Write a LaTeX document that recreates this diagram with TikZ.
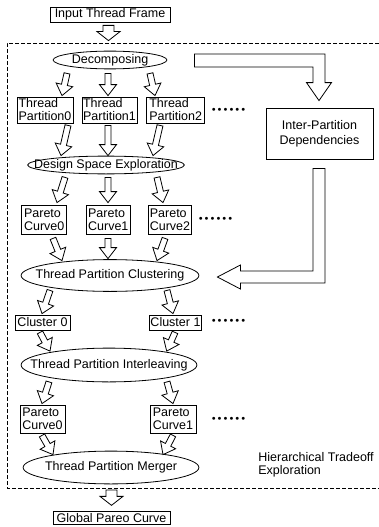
\documentclass[tikz,border=0pt]{standalone}
\usepackage{fontspec}
\setmainfont{Liberation Sans}
\newfontfamily\dotfont{DejaVu Sans}
\usetikzlibrary{calc}
\newcommand\blockarr[5]{%
  \draw[blockarrow] let \p1=#4, \p2=#5,
    \n1={atan2(\y2-\y1,\x2-\x1)}, \n2={veclen(\x2-\x1,\y2-\y1)} in
    [shift={(\p1)}, rotate=\n1]
    (0pt,-#1pt) -- ({\n2-#3pt},-#1pt) -- ({\n2-#3pt},-#2pt) -- ({\n2+0pt},0pt)
    -- ({\n2-#3pt},#2pt) -- ({\n2-#3pt},#1pt) -- (0pt,#1pt) -- cycle;}
\newcommand\bigarr[2]{\blockarr{5.5}{11.5}{9}{#1}{#2}}
\newcommand\smallarr[2]{\blockarr{3}{8.5}{11}{#1}{#2}}
\begin{document}
\begin{tikzpicture}[x=1pt,y=-1pt, line width=0.8pt,
  font=\fontsize{12.5}{13}\selectfont,
  box/.style={draw, rectangle, inner sep=1pt, align=left},
  oval/.style={rectangle, inner sep=0pt},
  blockarrow/.style={draw, fill=white, line join=miter},
  dashbox/.style={dash pattern=on 4pt off 2pt},
  dotrow/.style={inner sep=0pt, font=\dotfont\fontsize{10}{10}\selectfont}]
\useasboundingbox (0,0) rectangle (379,527);

% frame
\draw[dashbox] (385,43) -- (7,43) -- (7,488) -- (385,488);

% nodes
\node[box, minimum width=120pt, minimum height=15pt] (input) at (110,14.5) {Input Thread Frame};
\node[oval, minimum width=113pt, minimum height=17pt] (dec) at (110,60) {Decomposing};
\node[box, minimum width=56pt, minimum height=26pt] (p0) at (45,110) {Thread\\Partition0};
\node[box, minimum width=55pt, minimum height=26pt] (p1) at (109.5,110) {Thread\\Partition1};
\node[box, minimum width=58pt, minimum height=26pt] (p2) at (175.7,110) {Thread\\Partition2};
\node[dotrow] (dots1) at (228.5,111) {••••••};
\node[draw, rectangle, align=center, minimum width=107pt, minimum height=51pt, inner sep=1pt,
      font=\fontsize{12.5}{15}\selectfont] (ipd) at (319.5,133.5) {Inter-Partition\\Dependencies};
\node[oval, minimum width=156pt, minimum height=17pt] (dse) at (106,165) {Design Space Exploration};
\node[box, minimum width=45pt, minimum height=29pt] (pc0) at (44.2,219.5) {Pareto\\Curve0};
\node[box, minimum width=43.3pt, minimum height=29pt] (pc1) at (108.3,219.5) {Pareto\\Curve1};
\node[box, minimum width=43.4pt, minimum height=29pt] (pc2) at (170,219.5) {Pareto\\Curve2};
\node[dotrow] (dots2) at (215.5,220) {••••••};
\node[oval, minimum width=177pt, minimum height=31pt] (tpc) at (110,275.5) {Thread Partition Clustering};
\node[box, minimum width=55pt, minimum height=15pt] (cl0) at (42.5,322.5) {Cluster 0};
\node[box, minimum width=51pt, minimum height=15pt] (cl1) at (175.5,322.5) {Cluster 1};
\node[dotrow] (dots3) at (228.5,322) {••••••};
\node[oval, minimum width=175pt, minimum height=33pt] (tpi) at (109,365) {Thread Partition Interleaving};
\node[box, minimum width=45pt, minimum height=28pt] (ppc0) at (42.5,419) {Pareto\\Curve0};
\node[box, minimum width=46pt, minimum height=28pt] (ppc1) at (173,419) {Pareto\\Curve1};
\node[dotrow] (dots4) at (228.5,420) {••••••};
\node[oval, minimum width=175pt, minimum height=32pt] (tpm) at (111,467.5) {Thread Partition Merger};
\node[inner sep=0pt, align=left, anchor=west] (hte) at (258,464.5) {Hierarchical Tradeoff\\Exploration};
\node[box, minimum width=117pt, minimum height=12.5pt] (global) at (111.5,518) {Global Pareo Curve};

% ellipses
\foreach \nm in {dec,dse,tpc,tpi,tpm}
  \draw let \p1=($(\nm.east)-(\nm.center)$), \p2=($(\nm.north)-(\nm.center)$) in
    (\nm.center) ellipse [x radius=\x1, y radius=\y2];

% block arrows
\bigarr{($(input.south)+(-1.5,3)$)}{($(dec.north)+(-1.5,-10.5)$)}
\smallarr{($(dec.south)+(-43,4.5)$)}{($(p0.north)+(17,-1)$)}
\smallarr{($(dec.south)+(-2,4.5)$)}{($(p1.north)+(-1.5,-1)$)}
\smallarr{($(dec.south)+(40,4.5)$)}{($(p2.north)+(-20.7,-1)$)}
\smallarr{($(p0.south)+(23,2)$)}{($(dse.north)+(-45,-0.5)$)}
\smallarr{($(p1.south)+(-1.5,2)$)}{($(dse.north)+(2,-0.5)$)}
\smallarr{($(p2.south)+(-15.7,2)$)}{($(dse.north)+(47,-0.5)$)}
\smallarr{($(dse.south)+(-41,3.5)$)}{($(pc0.north)+(12.8,-2)$)}
\smallarr{($(dse.south)+(2,3.5)$)}{($(pc1.north)+(-0.3,-2)$)}
\smallarr{($(dse.south)+(51,3.5)$)}{($(pc2.north)+(-7,-2)$)}
\smallarr{($(pc0.south)+(8.8,4)$)}{($(tpc.north)+(-48,1)$)}
\smallarr{($(pc1.south)+(-0.3,4)$)}{($(tpc.north)+(-2,-1)$)}
\smallarr{($(pc2.south)+(-5,4)$)}{($(tpc.north)+(47,1)$)}
\smallarr{($(tpc.south)+(-60,-1)$)}{($(cl0.north)+(-0.5,-1)$)}
\smallarr{($(tpc.south)+(57,-1)$)}{($(cl1.north)+(-2.5,-1)$)}
\smallarr{($(cl0.south)+(-2.5,2)$)}{($(tpi.north)+(-59,3)$)}
\smallarr{($(cl1.south)+(-0.5,2)$)}{($(tpi.north)+(57.7,3)$)}
\smallarr{($(tpi.south)+(-60,0)$)}{($(ppc0.north)+(-0.5,-1)$)}
\smallarr{($(tpi.south)+(58,0)$)}{($(ppc1.north)+(0,-1)$)}
\smallarr{($(ppc0.south)+(-0.5,2)$)}{($(tpm.north)+(-58,3.5)$)}
\smallarr{($(ppc1.south)+(0,2)$)}{($(tpm.north)+(52,3.5)$)}
\bigarr{($(tpm.south)+(0.5,6)$)}{($(global.north)+(0,-6)$)}

% L-shaped arrows
\draw[blockarrow] let \p1=($(dec.east)+(27.5,0.5)$), \p2=($(ipd.north)+(-0.5,-7)$) in
  (\x1,\y1+6.5pt) -- (\x2+6pt,\y1+6.5pt) -- (\x2+6pt,\y2+18pt) -- (\x2+12.5pt,\y2+18pt)
  -- (\x2,\y2) -- (\x2-12.5pt,\y2+18pt) -- (\x2-6pt,\y2+18pt) -- (\x2-6pt,\y1-6.5pt)
  -- (\x1,\y1-6.5pt) -- cycle;
\draw[blockarrow] let \p1=($(ipd.south)+(-0.5,9)$), \p2=($(tpc.east)+(18.5,1.5)$) in
  (\x1-6pt,\y1) -- (\x1+6pt,\y1) -- (\x1+6pt,\y2-6pt) -- (\x2+23pt,\y2-6pt)
  -- (\x2+23pt,\y2-12pt) -- (\x2,\y2) -- (\x2+23pt,\y2+12pt) -- (\x2+23pt,\y2+6pt)
  -- (\x1-6pt,\y2+6pt) -- cycle;
\end{tikzpicture}
\end{document}
